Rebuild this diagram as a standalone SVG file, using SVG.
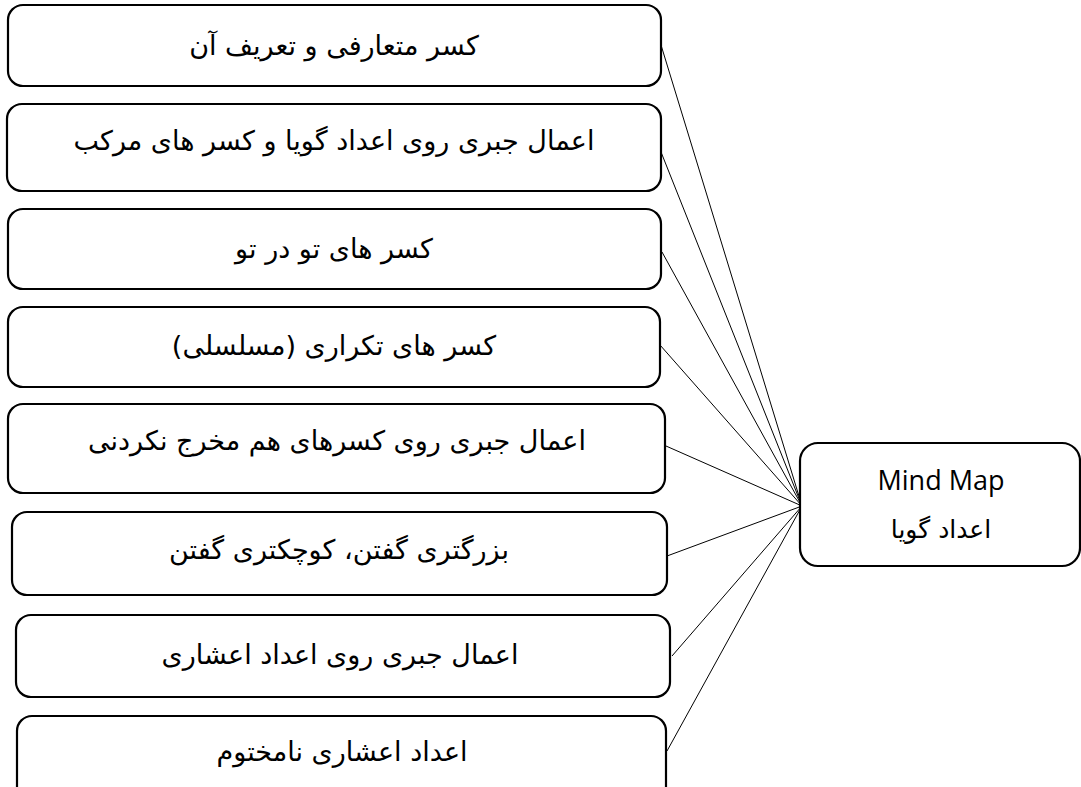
<svg xmlns="http://www.w3.org/2000/svg" width="1081" height="787" viewBox="0 0 1081 787">
<style>
.box{fill:#fff;stroke:#000;stroke-width:2.2}
.fa{font-family:"DejaVu Sans","Noto Sans",sans-serif;font-size:27px;fill:#000;text-anchor:middle}
.en{font-family:"Open Sans","Noto Sans",sans-serif;font-size:27px;fill:#000;text-anchor:middle}
.con line{stroke:#000;stroke-width:1}
</style>
<rect width="1081" height="787" fill="#fff"/>
<g class="con">
<line x1="661" y1="45" x2="802" y2="506"/>
<line x1="661" y1="152" x2="802" y2="506"/>
<line x1="662" y1="252" x2="802" y2="506"/>
<line x1="660" y1="345" x2="802" y2="506"/>
<line x1="666" y1="446" x2="802" y2="506"/>
<line x1="667" y1="556" x2="802" y2="506"/>
<line x1="672" y1="656" x2="802" y2="506"/>
<line x1="667" y1="751" x2="802" y2="506"/>
</g>
<g id="n1"><rect class="box" x="8" y="5" width="653" height="81" rx="15"/><text class="fa" direction="rtl" x="334" y="55">کسر متعارفی و تعریف آن</text></g>
<g id="n2"><rect class="box" x="7" y="104" width="654" height="87" rx="15"/><text class="fa" direction="rtl" x="334" y="150">اعمال جبری روی اعداد گویا و کسر های مرکب</text></g>
<g id="n3"><rect class="box" x="8" y="209" width="653" height="80" rx="15"/><text class="fa" direction="rtl" x="334" y="258">کسر های تو در تو</text></g>
<g id="n4"><rect class="box" x="8" y="307" width="652" height="80" rx="15"/><text class="fa" direction="rtl" x="334" y="355">کسر های تکراری (مسلسلی)</text></g>
<g id="n5"><rect class="box" x="8" y="404" width="657" height="89" rx="15"/><text class="fa" direction="rtl" x="337" y="450">اعمال جبری روی کسرهای هم مخرج نکردنی</text></g>
<g id="n6"><rect class="box" x="12" y="512" width="655" height="83" rx="15"/><text class="fa" direction="rtl" x="339" y="559">بزرگتری گفتن، کوچکتری گفتن</text></g>
<g id="n7"><rect class="box" x="16" y="615" width="654" height="82" rx="15"/><text class="fa" direction="rtl" x="340" y="664">اعمال جبری روی اعداد اعشاری</text></g>
<g id="n8"><rect class="box" x="17" y="716" width="649" height="90" rx="15"/><text class="fa" direction="rtl" x="342" y="761">اعداد اعشاری نامختوم</text></g>
<g id="center"><rect class="box" x="800" y="443" width="280" height="123" rx="18"/><text class="en" x="941" y="490">Mind Map</text><text class="fa" direction="rtl" x="941" y="538" style="font-size:25px">اعداد گویا</text></g>
</svg>
